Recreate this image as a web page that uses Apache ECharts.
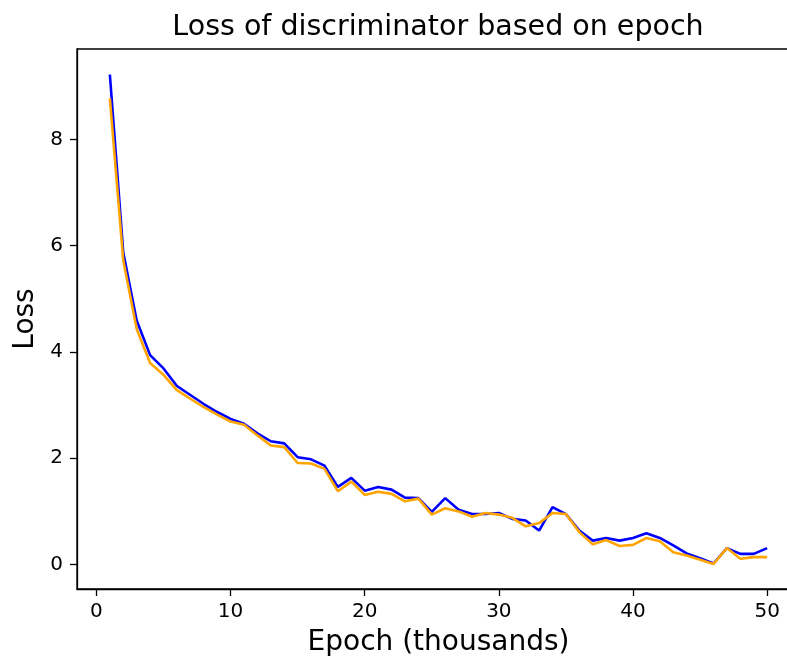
<!DOCTYPE html>
<html>
<head>
<meta charset="utf-8">
<script src="https://cdn.jsdelivr.net/npm/echarts@6/dist/echarts.min.js"></script>
<style>
html,body{margin:0;padding:0;background:#fff;}
#chart{width:787px;height:657px;}
</style>
</head>
<body>
<div id="chart"></div>
<script>
const epochs = [1,2,3,4,5,6,7,8,9,10,11,12,13,14,15,16,17,18,19,20,21,22,23,24,25,26,27,28,29,30,31,32,33,34,35,36,37,38,39,40,41,42,43,44,45,46,47,48,49,50];
const lossBlue = [9.22,5.87,4.59,3.94,3.69,3.36,3.19,3.02,2.87,2.74,
  2.65,2.47,2.32,2.28,2.02,1.98,1.86,1.46,1.63,1.39,
  1.46,1.41,1.26,1.25,0.99,1.25,1.03,0.95,0.95,0.97,
  0.86,0.83,0.64,1.08,0.95,0.64,0.45,0.50,0.45,0.50,
  0.59,0.50,0.36,0.21,0.12,0.02,0.31,0.20,0.20,0.31];
const lossOrange = [8.77,5.72,4.43,3.79,3.57,3.28,3.12,2.96,2.82,2.69,
  2.63,2.43,2.24,2.21,1.91,1.90,1.80,1.38,1.56,1.31,
  1.37,1.33,1.19,1.24,0.94,1.06,1.00,0.90,0.97,0.94,
  0.88,0.72,0.78,0.97,0.95,0.61,0.38,0.46,0.35,0.37,
  0.50,0.44,0.23,0.17,0.09,0.01,0.31,0.11,0.14,0.14];
const xTicks = [0,10,20,30,40,50];
const yTicks = [0,2,4,6,8];

const FONT = '"DejaVu Sans", sans-serif';
const chart = echarts.init(document.getElementById('chart'), null, {renderer:'canvas'});
const pairs = (ys) => epochs.map((x,i) => [x, ys[i]]);

chart.setOption({
  animation: false,
  backgroundColor: '#ffffff',
  title: {
    text: 'Loss of discriminator based on epoch',
    left: 433,
    textAlign: 'center',
    top: 8,
    textStyle: {fontFamily: FONT, fontSize: 28.5, fontWeight: 'normal', color: '#000'}
  },
  grid: {
    left: 77, top: 49, width: 723, height: 540,
    show: true, borderColor: '#000', borderWidth: 1.3, backgroundColor: 'transparent',
    containLabel: false, outerBoundsMode: 'none'
  },
  xAxis: {
    type: 'value', min: -1.45, max: 52.45,
    name: 'Epoch (thousands)', nameLocation: 'middle', nameGap: 40,
    nameTextStyle: {fontFamily: FONT, fontSize: 28, color: '#000'},
    axisLine: {show: true, onZero: false, lineStyle: {color: '#000', width: 1.3}},
    axisTick: {show: true, length: 7, lineStyle: {color: '#000', width: 1.3}, customValues: xTicks},
    axisLabel: {fontFamily: FONT, fontSize: 20, color: '#000', margin: 13, customValues: xTicks},
    splitLine: {show: false}
  },
  yAxis: {
    type: 'value', min: -0.46, max: 9.70,
    name: 'Loss', nameLocation: 'middle', nameGap: 36, nameRotate: 90,
    nameTextStyle: {fontFamily: FONT, fontSize: 28, color: '#000'},
    axisLine: {show: true, onZero: false, lineStyle: {color: '#000', width: 1.3}},
    axisTick: {show: true, length: 7, lineStyle: {color: '#000', width: 1.3}, customValues: yTicks},
    axisLabel: {fontFamily: FONT, fontSize: 20, color: '#000', margin: 14, customValues: yTicks},
    splitLine: {show: false}
  },
  series: [
    {type: 'line', data: pairs(lossBlue), showSymbol: false, symbol: 'none',
     lineStyle: {color: '#0000ff', width: 2.6}, itemStyle: {color: '#0000ff'}},
    {type: 'line', data: pairs(lossOrange), showSymbol: false, symbol: 'none',
     lineStyle: {color: '#ffa500', width: 2.6}, itemStyle: {color: '#ffa500'}}
  ]
});
</script>
</body>
</html>
